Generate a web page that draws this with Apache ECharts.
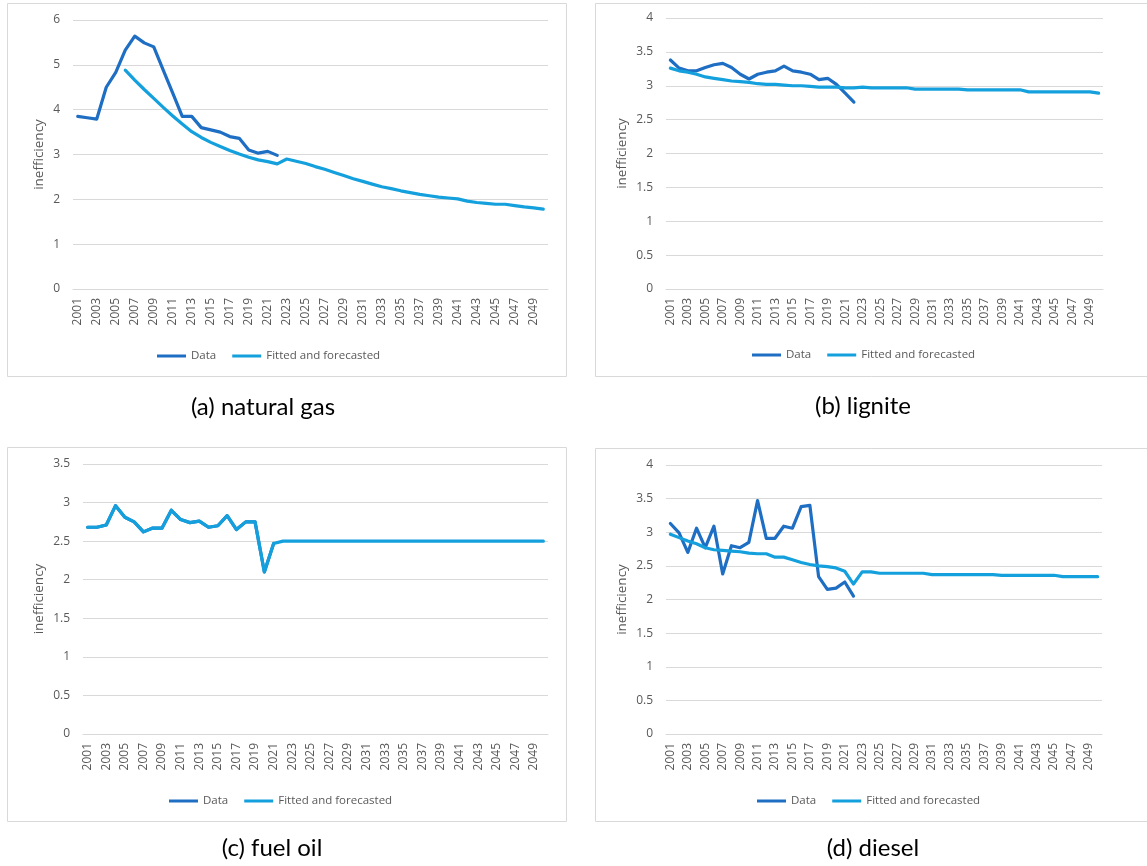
<!DOCTYPE html>
<html>
<head>
<meta charset="utf-8">
<style>
  html, body { margin: 0; padding: 0; background: #ffffff; }
  #chart { width: 1147px; height: 866px; }
</style>
<script src="https://cdn.jsdelivr.net/npm/echarts@6/dist/echarts.min.js"></script>
</head>
<body>
<div id="chart"></div>
<script>
// Years on the horizontal axis
const years = [
  '2001','2002','2003','2004','2005','2006','2007','2008','2009','2010',
  '2011','2012','2013','2014','2015','2016','2017','2018','2019','2020',
  '2021','2022','2023','2024','2025','2026','2027','2028','2029','2030',
  '2031','2032','2033','2034','2035','2036','2037','2038','2039','2040',
  '2041','2042','2043','2044','2045','2046','2047','2048','2049','2050'
];

// (a) natural gas
const gasData = [3.85,3.82,3.79,4.50,4.83,5.33,5.64,5.49,5.40,4.88,4.37,3.85,3.85,3.60,3.55,3.50,3.40,3.36,3.10,3.03,3.07,2.98];
const gasFit = [null,null,null,null,null,
  4.88,4.66,4.45,4.25,4.05,3.86,3.68,3.51,3.38,3.27,3.18,3.09,3.01,2.94,2.88,2.84,2.79,
  2.90,2.85,2.80,2.73,2.67,2.60,2.53,2.46,2.40,2.34,2.28,2.24,2.19,2.15,2.11,2.08,2.05,2.03,2.01,1.96,1.93,1.91,1.89,1.89,1.86,1.83,1.81,1.78];

// (b) lignite
const ligData = [3.38,3.26,3.22,3.22,3.27,3.31,3.33,3.27,3.17,3.10,3.17,3.20,3.22,3.29,3.22,3.20,3.17,3.09,3.11,3.02,2.89,2.76];
const ligFit = [3.26,3.22,3.20,3.17,3.13,3.11,3.09,3.07,3.06,3.05,3.03,3.02,3.02,3.01,3.00,3.00,2.99,2.98,2.98,2.98,2.97,2.97,
  2.98,2.97,2.97,2.97,2.97,2.97,
  2.95,2.95,2.95,2.95,2.95,2.95,
  2.94,2.94,2.94,2.94,2.94,2.94,2.94,
  2.91,2.91,2.91,2.91,2.91,2.91,2.91,2.91,
  2.89];

// (c) fuel oil
const fuelData = [2.68,2.68,2.71,2.96,2.81,2.75,2.62,2.67,2.67,2.90,2.78,2.74,2.76,2.68,2.70,2.83,2.65,2.75,2.75,2.10,2.47];
const fuelFit = [2.68,2.68,2.71,2.96,2.81,2.75,2.62,2.67,2.67,2.90,2.78,2.74,2.76,2.68,2.70,2.83,2.65,2.75,2.75,2.10,2.47,2.50,
  2.50,2.50,2.50,2.50,2.50,2.50,2.50,2.50,2.50,2.50,2.50,2.50,2.50,2.50,
  2.50,2.50,2.50,2.50,2.50,2.50,2.50,2.50,2.50,2.50,2.50,2.50,2.50,2.50];

// (d) diesel
const dieselData = [3.13,2.99,2.70,3.06,2.77,3.09,2.38,2.80,2.77,2.85,3.47,2.91,2.91,3.09,3.06,3.38,3.40,2.34,2.15,2.17,2.26,2.05];
const dieselFit = [2.97,2.92,2.87,2.83,2.77,2.74,2.73,2.72,2.71,2.69,2.68,2.68,2.63,2.63,2.59,2.55,2.52,2.50,2.49,2.47,2.42,2.23,
  2.41,2.41,
  2.39,2.39,2.39,2.39,2.39,2.39,
  2.37,2.37,2.37,2.37,2.37,2.37,2.37,2.37,
  2.36,2.36,2.36,2.36,2.36,2.36,2.36,
  2.34,2.34,2.34,2.34,2.34];

const captions = ['(a) natural gas', '(b) lignite', '(c) fuel oil', '(d) diesel'];
const seriesNames = ['Data', 'Fitted and forecasted'];
const yLabel = 'inefficiency';

const DATA_COLOR = '#1E6EC3';
const FIT_COLOR = '#14A0DC';
const TEXT_COLOR = '#595959';
const GRID_COLOR = '#D9D9D9';
const AXIS_FONT = "'Open Sans', 'Liberation Sans', sans-serif";

// Layout of the four panels
const panels = [
  { data: gasData, fit: gasFit, max: 6, step: 1,
    grid: { left: 73, top: 20, width: 475, height: 269 }, nameGap: 27,
    legend: { left: 152, top: 345 }, frame: [7, 3, 559, 373], caption: [263, 407] },
  { data: ligData, fit: ligFit, max: 4, step: 0.5,
    grid: { left: 666, top: 18, width: 437, height: 271 }, nameGap: 37,
    legend: { left: 747, top: 344 }, frame: [595, 3, 600, 373], caption: [863, 406] },
  { data: fuelData, fit: fuelFit, max: 3.5, step: 0.5,
    grid: { left: 83, top: 464, width: 465, height: 270 }, nameGap: 37,
    legend: { left: 164, top: 790 }, frame: [7, 447, 559, 374], caption: [272, 848] },
  { data: dieselData, fit: dieselFit, max: 4, step: 0.5,
    grid: { left: 666, top: 465, width: 436, height: 269 }, nameGap: 37,
    legend: { left: 752, top: 790 }, frame: [595, 448, 600, 373], caption: [873, 848] }
];

const option = {
  backgroundColor: '#ffffff',
  animation: false,
  grid: [], xAxis: [], yAxis: [], series: [], legend: [], graphic: []
};

panels.forEach((p, i) => {
  option.grid.push(Object.assign({ containLabel: false }, p.grid));
  option.xAxis.push({
    type: 'category', gridIndex: i, data: years, boundaryGap: true,
    axisLine: { show: true, lineStyle: { color: GRID_COLOR, width: 1 } },
    axisTick: { show: false },
    axisLabel: { interval: 1, rotate: 90, margin: 9, color: TEXT_COLOR, fontSize: 12, fontFamily: AXIS_FONT }
  });
  option.yAxis.push({
    type: 'value', gridIndex: i, min: 0, max: p.max, interval: p.step,
    name: yLabel, nameLocation: 'middle', nameRotate: 90, nameGap: p.nameGap,
    nameTextStyle: { color: TEXT_COLOR, fontSize: 13.5, fontFamily: AXIS_FONT },
    axisLine: { show: false }, axisTick: { show: false },
    axisLabel: { margin: 13, color: TEXT_COLOR, fontSize: 12, fontFamily: AXIS_FONT },
    splitLine: { lineStyle: { color: GRID_COLOR, width: 1 } }
  });
  const lineCommon = {
    type: 'line', xAxisIndex: i, yAxisIndex: i, symbol: 'none', connectNulls: false
  };
  option.series.push(Object.assign({}, lineCommon, {
    name: seriesNames[0], data: p.data, color: DATA_COLOR,
    lineStyle: { width: 3.2, color: DATA_COLOR, join: 'round', cap: 'round' }
  }));
  option.series.push(Object.assign({}, lineCommon, {
    name: seriesNames[1], data: p.fit, color: FIT_COLOR,
    lineStyle: { width: 3.2, color: FIT_COLOR, join: 'round', cap: 'round' }
  }));
  option.legend.push({
    data: seriesNames, left: p.legend.left, top: p.legend.top, orient: 'horizontal',
    icon: 'rect', itemWidth: 29, itemHeight: 3, itemGap: 16, selectedMode: false,
    textStyle: { color: TEXT_COLOR, fontSize: 11.5, fontFamily: AXIS_FONT }
  });
  option.graphic.push({
    type: 'rect', silent: true, z: -1,
    shape: { x: p.frame[0] + 0.5, y: p.frame[1] + 0.5, width: p.frame[2], height: p.frame[3] },
    style: { fill: 'none', stroke: GRID_COLOR, lineWidth: 1 }
  });
  option.graphic.push({
    type: 'text', silent: true,
    style: {
      text: captions[i], x: p.caption[0], y: p.caption[1],
      textAlign: 'center', textVerticalAlign: 'middle',
      font: "24px Lato, 'Open Sans', sans-serif", fill: '#000000'
    }
  });
});

const chart = echarts.init(document.getElementById('chart'), null, { renderer: 'canvas' });
chart.setOption(option);
</script>
</body>
</html>
